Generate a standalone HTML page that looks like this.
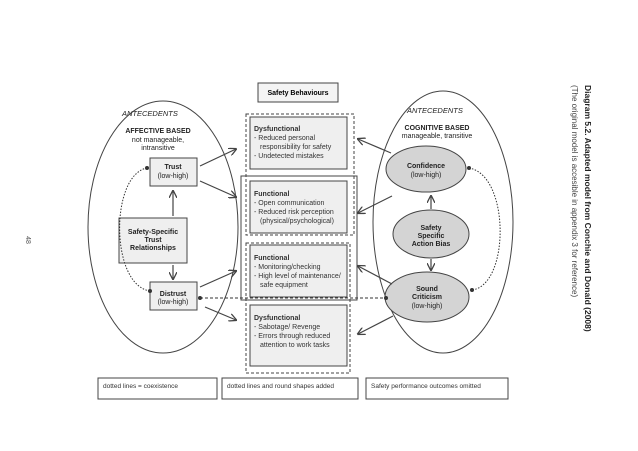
<!DOCTYPE html>
<html><head><style>
body{margin:0;background:#fff;}
svg{display:block;font-family:"Liberation Sans",sans-serif;}
</style></head><body>
<svg width="638" height="451" viewBox="0 0 638 451" xmlns="http://www.w3.org/2000/svg">
<defs><marker id="a" markerWidth="8" markerHeight="8" refX="7" refY="4" orient="auto" markerUnits="userSpaceOnUse"><path d="M0,0 L8,4 L0,8" fill="none" stroke="#444" stroke-width="1.3"/></marker></defs>
<rect width="638" height="451" fill="#fff"/>
<text x="26" y="240" font-size="7" fill="#555" transform="rotate(90 26 240)" text-anchor="middle">48</text>
<!-- ellipses -->
<ellipse cx="163" cy="227" rx="75" ry="126" fill="none" stroke="#444" stroke-width="1"/>
<ellipse cx="443" cy="222" rx="70" ry="131" fill="none" stroke="#444" stroke-width="1"/>
<g font-size="7.5" fill="#222">
<text x="122" y="116" font-style="italic">ANTECEDENTS</text>
<text x="158" y="133" text-anchor="middle" font-weight="bold" font-size="7">AFFECTIVE BASED</text>
<text x="158" y="142" text-anchor="middle" font-size="7">not manageable,</text>
<text x="158" y="150" text-anchor="middle" font-size="7">intransitive</text>
<text x="407" y="113" font-style="italic">ANTECEDENTS</text>
<text x="437" y="130" text-anchor="middle" font-weight="bold" font-size="7">COGNITIVE BASED</text>
<text x="437" y="138" text-anchor="middle" font-size="7">manageable, transitive</text>
</g>
<!-- safety behaviours -->
<rect x="258" y="83" width="80" height="19" fill="#f4f4f4" stroke="#444"/>
<text x="298" y="95" font-size="7" font-weight="bold" text-anchor="middle">Safety Behaviours</text>
<rect x="246" y="114" width="108" height="121" fill="none" stroke="#444" stroke-dasharray="3,2"/>
<rect x="241" y="176" width="116" height="124" fill="none" stroke="#444"/>
<rect x="246" y="243" width="104" height="130" fill="none" stroke="#444" stroke-dasharray="3,2"/>
<g fill="#efefef" stroke="#444">
<rect x="250" y="117" width="97" height="52"/>
<rect x="250" y="181" width="97" height="52"/>
<rect x="250" y="245" width="97" height="52"/>
<rect x="250" y="305" width="97" height="61"/>
</g>
<g font-size="7" fill="#333">
<text x="254" y="131" font-weight="bold">Dysfunctional</text>
<text x="254" y="140">- Reduced personal</text>
<text x="260" y="149">responsibility for safety</text>
<text x="254" y="158">- Undetected mistakes</text>
<text x="254" y="196" font-weight="bold">Functional</text>
<text x="254" y="205">- Open communication</text>
<text x="254" y="214">- Reduced risk perception</text>
<text x="260" y="223">(physical/psychological)</text>
<text x="254" y="260" font-weight="bold">Functional</text>
<text x="254" y="269">- Monitoring/checking</text>
<text x="254" y="278">- High level of maintenance/</text>
<text x="260" y="287">safe equipment</text>
<text x="254" y="320" font-weight="bold">Dysfunctional</text>
<text x="254" y="329">- Sabotage/ Revenge</text>
<text x="254" y="338">- Errors through reduced</text>
<text x="260" y="347">attention to work tasks</text>
</g>
<!-- left nodes -->
<g fill="#efefef" stroke="#444">
<rect x="150" y="158" width="47" height="28"/>
<rect x="119" y="218" width="68" height="45"/>
<rect x="150" y="282" width="47" height="28"/>
</g>
<g font-size="7" text-anchor="middle" fill="#222">
<text x="173" y="169" font-weight="bold">Trust</text><text x="173" y="178">(low-high)</text>
<text x="153" y="234" font-weight="bold">Safety-Specific</text><text x="153" y="242" font-weight="bold">Trust</text><text x="153" y="250" font-weight="bold">Relationships</text>
<text x="173" y="296" font-weight="bold">Distrust</text><text x="173" y="304">(low-high)</text>
</g>
<!-- right nodes -->
<g fill="#d4d4d4" stroke="#444">
<ellipse cx="426" cy="169" rx="40" ry="23"/>
<ellipse cx="431" cy="234" rx="38" ry="24"/>
<ellipse cx="427" cy="297" rx="42" ry="25"/>
</g>
<g font-size="7" text-anchor="middle" fill="#222">
<text x="426" y="168" font-weight="bold">Confidence</text><text x="426" y="177">(low-high)</text>
<text x="431" y="230" font-weight="bold">Safety</text><text x="431" y="238" font-weight="bold">Specific</text><text x="431" y="246" font-weight="bold">Action Bias</text>
<text x="427" y="291" font-weight="bold">Sound</text><text x="427" y="299" font-weight="bold">Criticism</text><text x="427" y="308">(low-high)</text>
</g>
<!-- vertical arrows -->
<g stroke="#444" stroke-width="1.2" fill="none" marker-end="url(#a)">
<line x1="173" y1="216" x2="173" y2="191"/>
<line x1="173" y1="265" x2="173" y2="279"/>
<line x1="431" y1="209" x2="431" y2="196"/>
<line x1="431" y1="259" x2="431" y2="270"/>
<line x1="200" y1="166" x2="236" y2="149"/>
<line x1="200" y1="181" x2="236" y2="197"/>
<line x1="200" y1="287" x2="236" y2="271"/>
<line x1="205" y1="307" x2="236" y2="320"/>
<line x1="391" y1="153" x2="358" y2="139"/>
<line x1="392" y1="196" x2="358" y2="213"/>
<line x1="392" y1="284" x2="358" y2="266"/>
<line x1="393" y1="316" x2="358" y2="334"/>
</g>
<!-- dotted links -->
<g stroke="#333" fill="none" stroke-dasharray="1.5,1.5">
<path d="M147,168 C110,175 110,285 150,291"/>
<path d="M469,168 C510,175 510,285 472,290"/>
<line x1="200" y1="298" x2="386" y2="298" stroke-dasharray="3,2"/>
</g>
<g fill="#333">
<circle cx="147" cy="168" r="2"/><circle cx="150" cy="291" r="2"/>
<circle cx="469" cy="168" r="2"/><circle cx="472" cy="290" r="2"/>
<circle cx="200" cy="298" r="2"/><circle cx="386" cy="298" r="2"/>
</g>
<!-- title -->
<g transform="translate(585,85) rotate(90)">
<text x="0" y="0" font-size="8.5" font-weight="bold" fill="#222">Diagram 5.2. Adapted model from Conchie and Donald (2008)</text>
<text x="0" y="13" font-size="8" fill="#444">(The original model is accesible in appendix 3 for reference)</text>
</g>
<!-- bottom notes -->
<g fill="#fff" stroke="#444">
<rect x="98" y="378" width="119" height="21"/>
<rect x="222" y="378" width="136" height="21"/>
<rect x="366" y="378" width="142" height="21"/>
</g>
<g font-size="6.5" fill="#333">
<text x="103" y="388">dotted lines = coexistence</text>
<text x="227" y="388">dotted lines and round shapes added</text>
<text x="371" y="388">Safety performance outcomes omitted</text>
</g>
</svg>
</body></html>
